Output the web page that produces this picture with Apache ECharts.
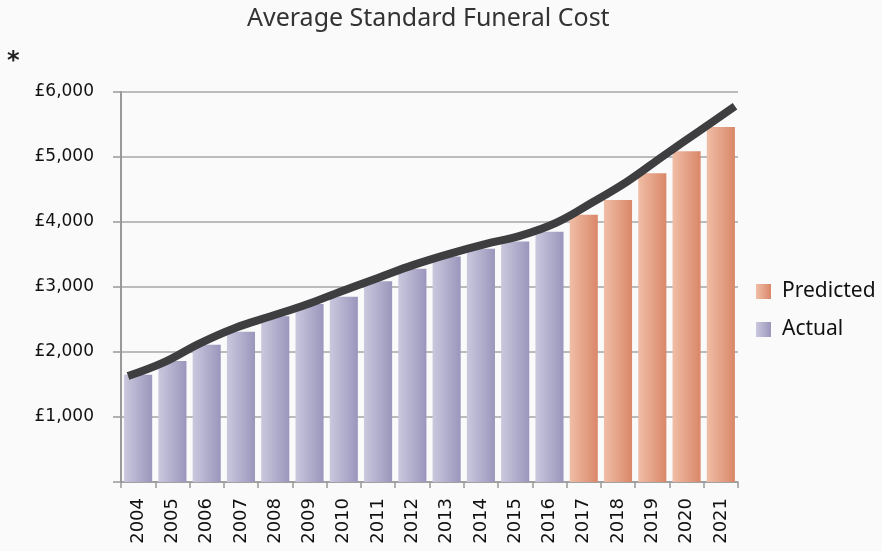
<!DOCTYPE html>
<html>
<head>
<meta charset="utf-8">
<script src="https://cdn.jsdelivr.net/npm/echarts@6/dist/echarts.min.js"></script>
<style>
  html, body { margin: 0; padding: 0; background: #fafafa; }
  #main { width: 882px; height: 551px; }
</style>
</head>
<body>
<div id="main"></div>
<script>
  const years = ['2004', '2005', '2006', '2007', '2008', '2009', '2010', '2011', '2012',
    '2013', '2014', '2015', '2016', '2017', '2018', '2019', '2020', '2021'];
  const actual = [1650, 1860, 2110, 2310, 2550, 2740, 2850, 3090, 3280, 3470, 3590, 3700, 3850,
    null, null, null, null, null];
  const predicted = [null, null, null, null, null, null, null, null, null, null, null, null, null,
    4110, 4340, 4750, 5090, 5460];
  // trend curve
  const trend = [1630, 1840, 2130, 2370, 2550, 2730, 2940, 3140, 3340, 3510, 3660, 3790, 3990,
    4300, 4630, 5020, 5400, 5780];
  const yTicks = [0, 1000, 2000, 3000, 4000, 5000, 6000];

  let chart = echarts.init(document.getElementById('main'));

  function grad(a, b) {
    return new echarts.graphic.LinearGradient(0, 0, 1, 0, [
      {offset: 0, color: a},
      {offset: 1, color: b}
    ]);
  }

  let option = {
    backgroundColor: '#fafafa',
    animation: false,
    title: [{
      text: 'Average Standard Funeral Cost',
      left: 242,
      top: 1,
      textStyle: {fontFamily: 'Noto Sans', fontSize: 25, fontWeight: 'normal', color: '#333'}
    }, {
      text: '*',
      left: 2,
      top: 45,
      textStyle: {fontFamily: 'DejaVu Sans', fontSize: 24, fontWeight: 'bold', color: '#222'}
    }],
    legend: {
      orient: 'vertical',
      left: 751,
      top: 276,
      itemWidth: 15,
      itemHeight: 15,
      itemGap: 17,
      icon: 'rect',
      textStyle: {fontFamily: 'Noto Sans', fontSize: 21, lineHeight: 20, color: '#111', padding: [0, 0, 0, 6]},
      data: ['Predicted', 'Actual']
    },
    grid: [
      {left: 121, right: 144, top: 92, bottom: 69},
      {left: 128, right: 147, top: 92, bottom: 69}
    ],
    xAxis: [{
      type: 'category',
      data: years,
      gridIndex: 0,
      axisLine: {lineStyle: {color: '#999', width: 1.5}},
      axisTick: {show: true, length: 6, lineStyle: {color: '#999', width: 1.5}},
      axisLabel: {
        rotate: 90,
        margin: 16,
        interval: 0,
        fontFamily: 'DejaVu Sans',
        fontSize: 18,
        color: '#111'
      }
    }, {
      type: 'category',
      data: years,
      gridIndex: 1,
      boundaryGap: false,
      show: false
    }],
    yAxis: [{
      type: 'value',
      gridIndex: 0,
      min: 0,
      max: 6000,
      interval: 1000,
      axisLine: {show: true, lineStyle: {color: '#999', width: 2}},
      axisTick: {show: true, length: 8, lineStyle: {color: '#999', width: 1.5}},
      splitLine: {lineStyle: {color: '#a6a6a6', width: 1.5}},
      axisLabel: {
        margin: 27,
        fontFamily: 'DejaVu Sans',
        fontSize: 17,
        color: '#111',
        formatter: function (v) {
          if (yTicks.indexOf(v) < 0 || v === 0) return '';
          return '£' + v.toLocaleString('en-GB');
        }
      }
    }, {
      type: 'value',
      gridIndex: 1,
      min: 0,
      max: 6000,
      show: false
    }],
    series: [
      {
        name: 'Predicted',
        type: 'bar',
        xAxisIndex: 0,
        yAxisIndex: 0,
        barCategoryGap: '18%',
        barGap: '-100%',
        itemStyle: {color: grad('#efbea6', '#da8769')},
        data: predicted
      },
      {
        name: 'Actual',
        type: 'bar',
        xAxisIndex: 0,
        yAxisIndex: 0,
        barCategoryGap: '18%',
        barGap: '-100%',
        itemStyle: {color: grad('#cac8de', '#9a96bc')},
        data: actual
      },
      {
        name: 'Trend',
        type: 'line',
        xAxisIndex: 1,
        yAxisIndex: 1,
        smooth: 0.4,
        showSymbol: false,
        lineStyle: {color: '#3e3e40', width: 8, cap: 'butt'},
        data: trend
      }
    ]
  };
  chart.setOption(option);
</script>
</body>
</html>
